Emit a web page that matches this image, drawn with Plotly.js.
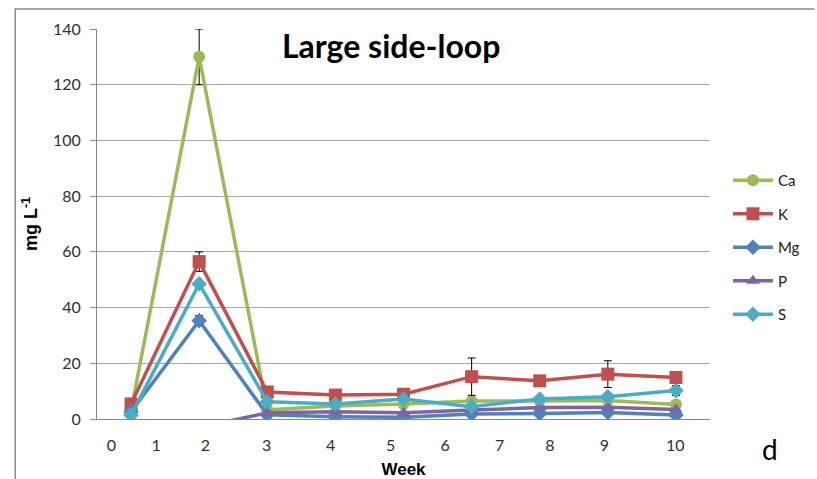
<!DOCTYPE html>
<html>
<head>
<meta charset="utf-8">
<script src="https://cdn.plot.ly/plotly-3.0.1.min.js"></script>
<style>
  html, body { margin: 0; padding: 0; background: #fff; }
  #chart { width: 817px; height: 479px; }
</style>
</head>
<body>
<div id="chart"></div>
<script>
// Sampling occasions, drawn evenly spaced along the x axis
const sampleNo = [0, 1, 2, 3, 4, 5, 6, 7, 8];

// Concentrations (mg L-1) per element
const ca = [3.0, 130, 3.3, 4.7, 5.4, 6.5, 6.5, 6.6, 5.2];
const k  = [5.4, 56.5, 9.7, 8.6, 8.9, 15.2, 13.7, 16.1, 14.9];
const mg = [2.6, 35.3, 1.5, 0.8, 0.6, 1.8, 2.0, 2.3, 1.4];
const p  = [null, -3.0, 2.2, 2.6, 2.2, 3.2, 4.1, 4.2, 3.4];
const s  = [1.4, 48.5, 6.2, 5.4, 7.2, 4.4, 7.2, 8.0, 10.2];

// Standard errors (only where bars are shown)
const caErr = [null, 10, null, null, null, null, null, null, null];
const kErr  = [null, 3.5, null, null, null, 6.7, null, 4.8, null];
const mgErr = [null, 1.8, null, null, null, null, null, null, null];
const sErr  = [null, null, null, null, null, null, null, null, 1.8];

// Week tick labels along the bottom
const weekLabels = ['0', '1', '2', '3', '4', '5', '6', '7', '8', '9', '10'];
const weekTickPos = [-0.29, 0.37, 1.09, 1.99, 2.93, 3.81, 4.61, 5.41, 6.15, 6.95, 7.99];

const seriesNames = ['Ca', 'K', 'Mg', 'P', 'S'];
const seriesValues = [ca, k, mg, p, s];
const seriesErrors = [caErr, kErr, mgErr, null, sErr];
const colors = ['#9BBB59', '#C0504D', '#4F81BD', '#8064A2', '#4BACC6'];
const symbols = ['circle', 'square', 'diamond', 'triangle-up', 'diamond'];
const sizes = [12, 13, 12, 12, 12];

const traces = seriesNames.map((name, i) => {
  const t = {
    x: sampleNo,
    y: seriesValues[i],
    name: name,
    legendgroup: name,
    type: 'scatter',
    mode: 'lines+markers',
    connectgaps: false,
    line: { color: colors[i], width: 3.5 },
    marker: { color: colors[i], symbol: symbols[i], size: sizes[i] }
  };
  if (seriesErrors[i]) {
    t.error_y = {
      type: 'data', array: seriesErrors[i], visible: true,
      color: '#000', thickness: 1, width: 4
    };
  }
  return t;
});

// plot area in pixels: left 97, right 712, top 29, bottom 419
const L = 97, R = 712, T = 29, B = 419;
const px = v => (v - L) / (R - L);
const py = v => (B - v) / (B - T);

const layout = {
  width: 817, height: 479,
  margin: { l: L, r: 817 - R, t: T, b: 479 - B },
  paper_bgcolor: '#fff', plot_bgcolor: '#fff',
  font: { family: 'Lato, sans-serif', color: '#404040' },
  showlegend: true,
  legend: {
    x: px(730), xanchor: 'left', y: py(164), yanchor: 'top',
    font: { family: 'Lato, sans-serif', size: 15, color: '#202020' },
    tracegroupgap: 11, itemwidth: 40, bgcolor: 'rgba(0,0,0,0)'
  },
  xaxis: {
    range: [-0.5, 8.5],
    tickmode: 'array', tickvals: weekTickPos, ticktext: weekLabels,
    showgrid: false, zeroline: false,
    showline: true, linecolor: '#888', linewidth: 1,
    ticks: '', ticklabelstandoff: 12,
    tickfont: { family: 'Lato, sans-serif', size: 16, color: '#303030' },
    title: { text: '<b>Week</b>', font: { family: 'Liberation Sans, Arial, sans-serif', size: 17, color: '#000' }, standoff: 10 },
    automargin: false, fixedrange: true
  },
  yaxis: {
    range: [0, 140], tickvals: [0, 20, 40, 60, 80, 100, 120, 140],
    showgrid: true, gridcolor: '#A6A6A6', gridwidth: 1,
    zeroline: false,
    showline: true, linecolor: '#888', linewidth: 1,
    ticks: 'outside', ticklen: 6, tickcolor: '#888', ticklabelstandoff: 6,
    tickfont: { family: 'Lato, sans-serif', size: 16, color: '#303030' },
    title: { text: '<b>mg L<sup>-1</sup></b>', font: { family: 'Liberation Sans, Arial, sans-serif', size: 18, color: '#000' }, standoff: 10 },
    automargin: false, fixedrange: true
  },
  shapes: [
    { type: 'path', xref: 'paper', yref: 'paper',
      path: `M ${px(15)} ${py(479)} L ${px(15)} ${py(9)} L ${px(817)} ${py(9)}`,
      line: { color: '#8C8C8C', width: 1.5 } }
  ],
  annotations: [
    { text: '<b>Large side-loop</b>', xref: 'paper', yref: 'paper',
      x: px(392), y: py(46), xanchor: 'center', yanchor: 'middle', showarrow: false,
      font: { family: 'Lato, sans-serif', size: 32, color: '#000' } },
    { text: 'd', xref: 'paper', yref: 'paper',
      x: px(772), y: py(449), xanchor: 'center', yanchor: 'middle', showarrow: false,
      font: { family: 'Lato, sans-serif', size: 28, color: '#000' } }
  ]
};

Plotly.newPlot('chart', traces, layout, { displayModeBar: false, staticPlot: true });
</script>
</body>
</html>
